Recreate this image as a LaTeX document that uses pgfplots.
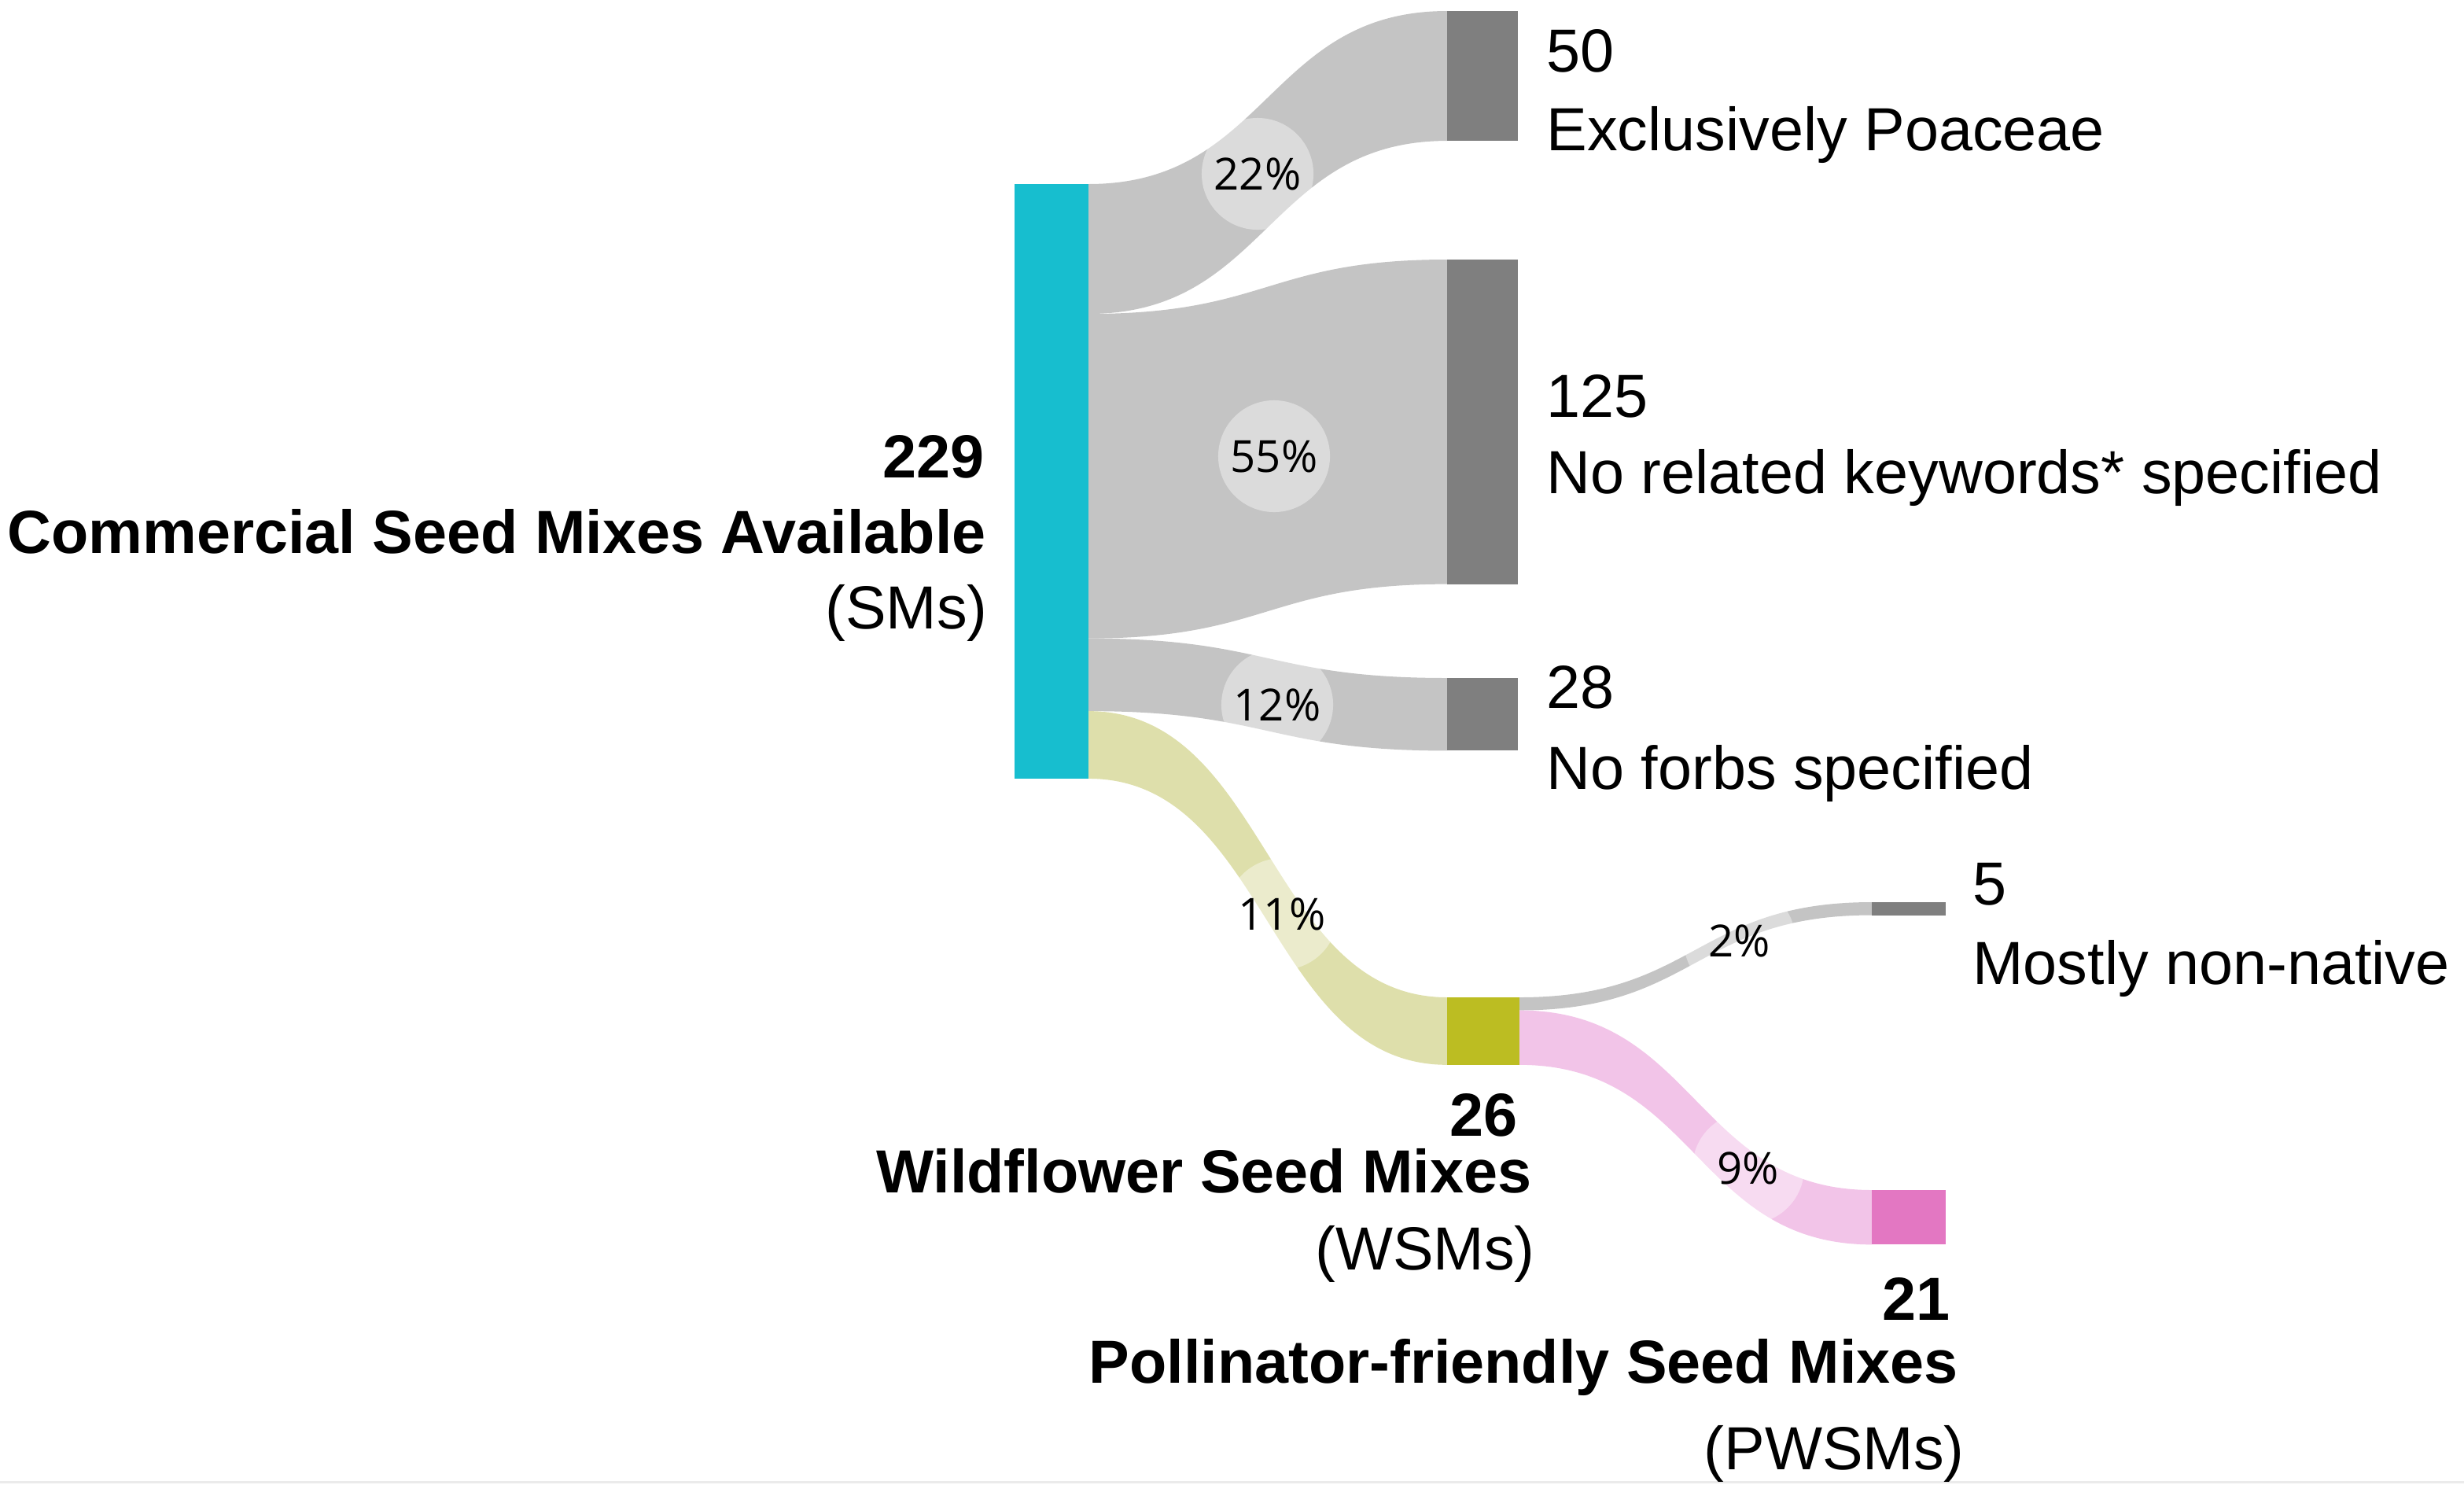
\documentclass[border=0pt]{standalone}
\usepackage{fontspec}
\setmainfont{Liberation Sans}
\newfontfamily\pctfont{Open Sans}
\usepackage{pgfplots}
\pgfplotsset{compat=1.18}

\definecolor{tcyan}{HTML}{17BECF}
\definecolor{tolive}{HTML}{BCBD22}
\definecolor{tpink}{HTML}{E377C2}
\definecolor{tgray}{HTML}{7F7F7F}
\definecolor{bgray}{HTML}{C4C4C4}
\definecolor{bolive}{HTML}{DEDFAB}
\definecolor{bpink}{HTML}{F2C4E8}

% pixels per seed mix
\def\k{3.301}

% node bar: x0, x1, top, value, colour
\newcommand\sknode[5]{%
  \pgfmathsetmacro\skbot{#3+#4*\k}%
  \edef\tmp{\noexpand\addplot[fill=#5,draw=none] coordinates {(#1,#3) (#2,#3) (#2,\skbot) (#1,\skbot)};}%
  \tmp}

% link band: x source, y source, x target, y target, value, colour
\newcommand\sklink[6]{%
  \pgfmathsetmacro\skh{#5*\k}%
  \pgfmathsetmacro\skxm{(#1+#3)/2}%
  \pgfmathsetmacro\skysb{#2+\skh}%
  \pgfmathsetmacro\skytb{#4+\skh}%
  \edef\tmp{\noexpand\fill[#6] (axis cs:#1,#2) .. controls (axis cs:\skxm,#2) and (axis cs:\skxm,#4) .. (axis cs:#3,#4)
    -- (axis cs:#3,\skytb) .. controls (axis cs:\skxm,\skytb) and (axis cs:\skxm,\skysb) .. (axis cs:#1,\skysb) -- cycle;}%
  \tmp}

% percentage badge: x, y, text
\newcommand\skpct[3]{%
  \fill[white,opacity=0.4] (axis cs:#1,#2) circle[radius=0.71cm];
  \node[font=\pctfont\fontsize{16}{18}\selectfont] at (axis cs:#1,#2) {#3\%};}

\newcommand\lab{\fontsize{22}{26}\selectfont}
\newcommand\blab{\fontsize{22}{26}\selectfont\bfseries}

\begin{document}
\begin{tikzpicture}
\begin{axis}[
  x=0.01cm, y=0.01cm,
  scale only axis,
  xmin=0, xmax=3133,
  ymin=0, ymax=1901,
  y dir=reverse,
  hide axis,
  clip=false,
]
\path (rel axis cs:0,0) (rel axis cs:1,1);

% source slices of SM (top 234): 0, 50, 175, 203 mixes
\pgfmathsetmacro\sA{234}
\pgfmathsetmacro\sB{234+50*\k}
\pgfmathsetmacro\sC{234+175*\k}
\pgfmathsetmacro\sD{234+203*\k}
% source slices of WSM (top 1268): 0, 5 mixes
\pgfmathsetmacro\wA{1268}
\pgfmathsetmacro\wB{1268+5*\k}

\sklink{1384}{\sA}{1840}{14}{50}{bgray}
\sklink{1384}{\sB}{1840}{330}{125}{bgray}
\sklink{1384}{\sC}{1840}{862}{28}{bgray}
\sklink{1384}{\sD}{1840}{1268}{26}{bolive}
\sklink{1932}{\wA}{2380}{1147}{5}{bgray}
\sklink{1932}{\wB}{2380}{1513}{21}{bpink}

\skpct{1599}{221}{22}
\skpct{1620}{580}{55}
\skpct{1624}{896}{12}
\skpct{1630}{1162}{11}
\skpct{2212}{1196}{2}
\skpct{2223}{1485}{9}

\sknode{1290}{1384}{234}{229}{tcyan}
\sknode{1840}{1930}{14}{50}{tgray}
\sknode{1840}{1930}{330}{125}{tgray}
\sknode{1840}{1930}{862}{28}{tgray}
\sknode{1840}{1932}{1268}{26}{tolive}
\sknode{2380}{2474}{1147}{5}{tgray}
\sknode{2380}{2474}{1513}{21}{tpink}

\addplot[draw=black!8, line width=0.03cm] coordinates {(0,1884) (3133,1884)};

\node[anchor=base west, font=\lab] at (axis cs:1954,91) {50};
\node[anchor=base west, font=\lab] at (axis cs:1954,191) {Exclusively Poaceae};
\node[anchor=base west, font=\lab] at (axis cs:1954,530) {125};
\node[anchor=base west, font=\lab] at (axis cs:1954,627) {No related keywords* specified};
\node[anchor=base west, font=\lab] at (axis cs:1954,900) {28};
\node[anchor=base west, font=\lab] at (axis cs:1954,1003) {No forbs specified};
\node[anchor=base west, font=\lab] at (axis cs:2496,1150) {5};
\node[anchor=base west, font=\lab] at (axis cs:2496,1251) {Mostly non-native};

\node[anchor=base east, font=\blab] at (axis cs:1264,607) {229};
\node[anchor=base east, font=\blab] at (axis cs:1266,703) {Commercial Seed Mixes Available};
\node[anchor=base east, font=\lab] at (axis cs:1268,799) {(SMs)};
\node[anchor=base east, font=\blab] at (axis cs:1942,1444) {26};
\node[anchor=base east, font=\blab] at (axis cs:1960,1516) {Wildflower Seed Mixes};
\node[anchor=base east, font=\lab] at (axis cs:1964,1614) {(WSMs)};
\node[anchor=base east, font=\blab] at (axis cs:2492,1678) {21};
\node[anchor=base east, font=\blab] at (axis cs:2502,1758) {Pollinator-friendly Seed Mixes};
\node[anchor=base east, font=\lab] at (axis cs:2510,1868) {(PWSMs)};
\end{axis}
\pgfresetboundingbox
\path[use as bounding box] (current axis.south west) rectangle (current axis.north east);
\end{tikzpicture}
\end{document}
